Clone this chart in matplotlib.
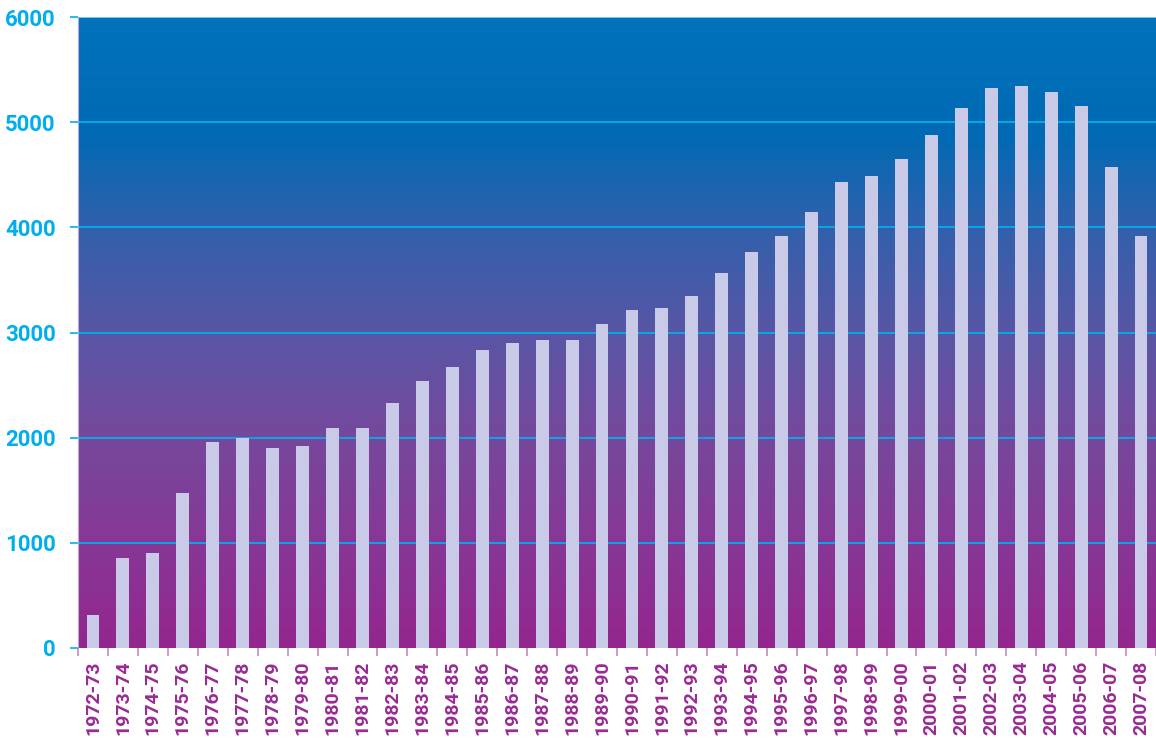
import matplotlib
matplotlib.use("Agg")
import matplotlib.pyplot as plt
import numpy as np
from matplotlib.colors import LinearSegmentedColormap

# Yearly totals, academic years 1972-73 to 2007-08
years = [
    "1972-73", "1973-74", "1974-75", "1975-76", "1976-77", "1977-78",
    "1978-79", "1979-80", "1980-81", "1981-82", "1982-83", "1983-84",
    "1984-85", "1985-86", "1986-87", "1987-88", "1988-89", "1989-90",
    "1990-91", "1991-92", "1992-93", "1993-94", "1994-95", "1995-96",
    "1996-97", "1997-98", "1998-99", "1999-00", "2000-01", "2001-02",
    "2002-03", "2003-04", "2004-05", "2005-06", "2006-07", "2007-08",
]
totals = [
    310, 852, 908, 1470, 1955, 1993,
    1898, 1917, 2088, 2088, 2326, 2536,
    2668, 2830, 2897, 2925, 2925, 3077,
    3210, 3229, 3344, 3562, 3762, 3914,
    4142, 4428, 4485, 4647, 4875, 5132,
    5322, 5341, 5284, 5151, 4571, 3915,
]
y_ticks = [0, 1000, 2000, 3000, 4000, 5000, 6000]

# background gradient, bottom (0) to top (6000)
bg_stops = [
    (0.0, (148, 38, 142)),
    (1000 / 6000, (135, 55, 150)),
    (2000 / 6000, (118, 72, 156)),
    (3000 / 6000, (88, 86, 165)),
    (4000 / 6000, (50, 96, 172)),
    (4900 / 6000, (0, 106, 180)),
    (1.0, (0, 114, 188)),
]
bg_cmap = LinearSegmentedColormap.from_list(
    "bg", [(p, tuple(c / 255 for c in rgb)) for p, rgb in bg_stops]
)

CYAN = "#00aeef"
PURPLE = "#9a2a94"
BAR = "#c8cae8"

fig = plt.figure(figsize=(11.56, 7.38), dpi=100)
ax = fig.add_axes([78 / 1156, 1 - 648 / 738, 1 - 78 / 1156, (648 - 17) / 738])

x = np.arange(len(years))
ax.set_xlim(-0.5, len(years) - 0.5)
ax.set_ylim(0, 6000)

grad = np.linspace(0, 1, 512).reshape(-1, 1)
ax.imshow(grad, cmap=bg_cmap, origin="lower", aspect="auto",
          extent=(-0.5, len(years) - 0.5, 0, 6000), zorder=0)

for t in y_ticks[1:]:
    ax.axhline(t, color=CYAN if t < 6000 else "#7fd3f5", lw=1.3, zorder=1)

ax.bar(x, totals, width=0.43, color=BAR, zorder=2)

for side in ("top", "right", "bottom"):
    ax.spines[side].set_visible(False)
ax.spines["left"].set_color("#b9a6d6")
ax.spines["left"].set_linewidth(0.8)

ax.set_yticks(y_ticks)
ax.set_yticklabels([str(t) for t in y_ticks], color=CYAN,
                   fontsize=16, fontweight="bold", family="Roboto")
ax.tick_params(axis="y", length=6, width=1.2, color=CYAN, pad=10)

ax.set_xticks(x)
ax.set_xticklabels(years, rotation=90, color=PURPLE, fontsize=14,
                   fontweight="bold", family="Roboto", va="top")
ax.tick_params(axis="x", which="major", length=0, pad=9)
ax.set_xticks(np.arange(len(years) + 1) - 0.5, minor=True)
ax.tick_params(axis="x", which="minor", length=6, width=1.2, color="#c08cc0")

fig.savefig("out.png", dpi=100)
